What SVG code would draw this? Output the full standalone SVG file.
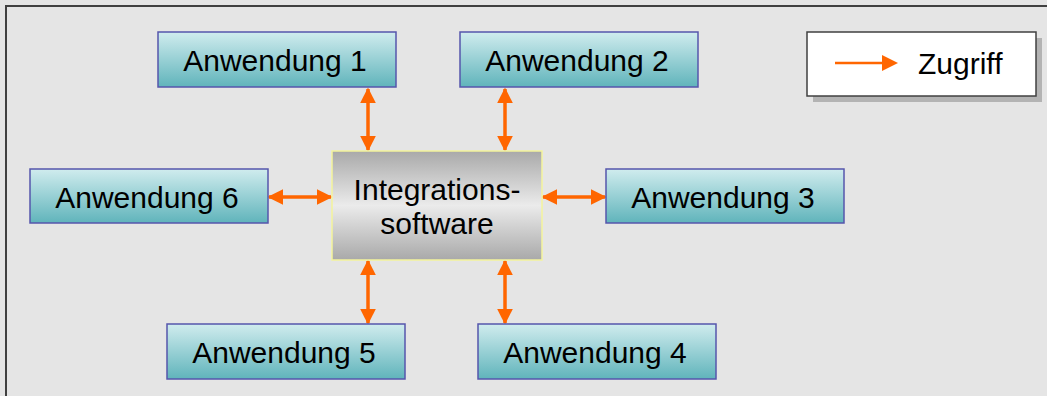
<svg xmlns="http://www.w3.org/2000/svg" width="1047" height="396" viewBox="0 0 1047 396">
  <style>
    .app rect { fill: url(#appFill); stroke: #5656ac; stroke-width: 1.5; }
    .lbl { font-family: "Liberation Sans", Arial, sans-serif; font-size: 30px; fill: #000; text-anchor: middle; }
    .link { stroke: #ff6600; stroke-width: 3.5; fill: none; marker-start: url(#head); marker-end: url(#head); }
  </style>
  <defs>
    <linearGradient id="appFill" x1="0" y1="0" x2="0" y2="1">
      <stop offset="0" stop-color="#d0ecee"/>
      <stop offset="1" stop-color="#60b4bb"/>
    </linearGradient>
    <linearGradient id="coreFill" x1="0" y1="0" x2="0" y2="1">
      <stop offset="0" stop-color="#a9a9a9"/>
      <stop offset="0.5" stop-color="#ebebeb"/>
      <stop offset="1" stop-color="#a9a9a9"/>
    </linearGradient>
    <marker id="head" viewBox="0 0 10 10" refX="9" refY="5" markerWidth="4.6" markerHeight="4.6" orient="auto-start-reverse">
      <path d="M0,0 L10,5 L0,10 z" fill="#ff6600"/>
    </marker>
  </defs>

  <!-- canvas and frame -->
  <rect x="0" y="0" width="1047" height="396" fill="#e5e5e5"/>
  <path d="M6,396 V6 H1047" fill="none" stroke="#404040" stroke-width="2"/>

  <!-- connectors -->
  <g id="connectors">
    <line class="link" x1="368" y1="89" x2="368" y2="150"/>
    <line class="link" x1="505" y1="89" x2="505" y2="150"/>
    <line class="link" x1="269" y1="197" x2="331" y2="197"/>
    <line class="link" x1="543" y1="197" x2="605" y2="197"/>
    <line class="link" x1="368" y1="261" x2="368" y2="323"/>
    <line class="link" x1="505" y1="261" x2="505" y2="323"/>
  </g>

  <!-- central hub -->
  <g id="integration">
    <rect x="332" y="151" width="210" height="109" fill="url(#coreFill)" stroke="#f4f49c" stroke-width="1.5"/>
    <text class="lbl" x="437" y="200">Integrations-</text>
    <text class="lbl" x="437" y="234">software</text>
  </g>

  <g id="app1" class="app">
    <rect x="158" y="32" width="238" height="55"/>
    <text class="lbl" x="275" y="71">Anwendung 1</text>
  </g>
  <g id="app2" class="app">
    <rect x="460" y="32" width="238" height="55"/>
    <text class="lbl" x="577" y="71">Anwendung 2</text>
  </g>
  <g id="app3" class="app">
    <rect x="606" y="169" width="238" height="54"/>
    <text class="lbl" x="723" y="208">Anwendung 3</text>
  </g>
  <g id="app4" class="app">
    <rect x="478" y="324" width="238" height="55"/>
    <text class="lbl" x="595" y="363">Anwendung 4</text>
  </g>
  <g id="app5" class="app">
    <rect x="167" y="324" width="238" height="55"/>
    <text class="lbl" x="284" y="363">Anwendung 5</text>
  </g>
  <g id="app6" class="app">
    <rect x="30" y="169" width="238" height="54"/>
    <text class="lbl" x="147" y="208">Anwendung 6</text>
  </g>

  <!-- legend -->
  <g id="legend">
    <rect x="813" y="38" width="229" height="64" fill="#b3b3b3"/>
    <rect x="807" y="32" width="229" height="64" fill="#ffffff" stroke="#404040" stroke-width="1.5"/>
    <line x1="835" y1="63" x2="883" y2="63" stroke="#ff6600" stroke-width="2.5"/>
    <path d="M882,55 L898,63 L882,71 z" fill="#ff6600"/>
    <text x="918" y="74" font-family="Liberation Sans, Arial, sans-serif" font-size="30">Zugriff</text>
  </g>
</svg>
